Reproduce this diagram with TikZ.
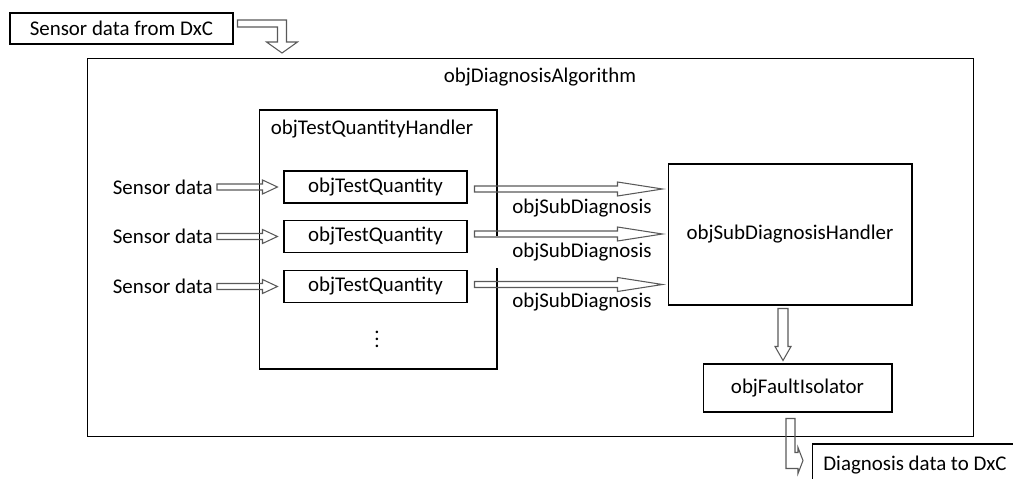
\documentclass[tikz,border=0pt]{standalone}
\usepackage{fontspec}
\setmainfont{Carlito}
\usetikzlibrary{calc}

\tikzset{
  box/.style={draw, line width=0.6pt, inner sep=0pt},
  blk/.style={draw=black!65, line width=0.6pt},
  harrow/.style={blk, to path={
    ($(\tikztostart)+(0,-3)$) -- ($(\tikztostart -| \tikztotarget)+(-#1,-3)$)
    -- ($(\tikztostart -| \tikztotarget)+(-#1,-7)$) -- (\tikztostart -| \tikztotarget)
    -- ($(\tikztostart -| \tikztotarget)+(-#1,7)$) -- ($(\tikztostart -| \tikztotarget)+(-#1,3)$)
    -- ($(\tikztostart)+(0,3)$) -- cycle}},
  harrow/.default=15,
  varrow/.style={blk, to path={
    ($(\tikztostart)+(-5,0)$) -- ($(\tikztostart |- \tikztotarget)+(-5,-14)$)
    -- ($(\tikztostart |- \tikztotarget)+(-8,-14)$) -- (\tikztostart |- \tikztotarget)
    -- ($(\tikztostart |- \tikztotarget)+(8,-14)$) -- ($(\tikztostart |- \tikztotarget)+(5,-14)$)
    -- ($(\tikztostart)+(5,0)$) -- cycle}},
}

\begin{document}
\begin{tikzpicture}[x=0.02cm, y=-0.02cm, font=\fontsize{11.9}{14}\selectfont]
    \clip (0,0) rectangle (1013,479);
    % boxes
    \node[box, minimum width=4.46cm, minimum height=0.62cm] (src) at (121.5,28.5) {Sensor data from DxC};
    \node[box, minimum width=17.74cm, minimum height=7.58cm] (algo) at (530.5,247.5) {};
    \node (algotitle) at (540,77) {objDiagnosisAlgorithm};
    \node[box, minimum width=4.76cm, minimum height=5.18cm] (tqh) at (378,239.5) {};
    \node (tqhtitle) at (372,129) {objTestQuantityHandler};
    \foreach \i/\y in {1/187,2/236.5,3/286.5} {
        \node[box, minimum width=3.66cm, minimum height=0.64cm] (tq\i) at (375.5,\y) {objTestQuantity};
        \node[anchor=east, inner sep=0pt] (sd\i) at (213,\y) {Sensor data};
    }
    \node (dots) at (377,334) {$\vdots$};
    % labels
    \node (lbl1) at (582,208) {objSubDiagnosis};
    \node[fill=white, minimum width=3.6cm, minimum height=0.64cm] (lbl2) at (582,252) {objSubDiagnosis};
    \node (lbl3) at (582,302) {objSubDiagnosis};
    \node[box, minimum width=4.88cm, minimum height=2.82cm] (sdh) at (790,234.5) {objSubDiagnosisHandler};
    \node[box, minimum width=3.78cm, minimum height=0.96cm] (fi) at (797.5,388) {objFaultIsolator};
    \node[box, minimum width=4.12cm, minimum height=0.84cm] (out) at (915,465) {Diagnosis data to DxC};
    % hollow arrows
    \foreach \i/\dy in {1/2,2/-2.5,3/-2} {
        \coordinate (sa\i) at ($(sd\i.east)+(4,0)$);
        \coordinate (sb\i) at ($(tq\i.west)+(-6,0)$);
        \draw[harrow] (sa\i) to (sb\i);
        \coordinate (da\i) at ($(tq\i.east)+(7,\dy)$);
        \coordinate (db\i) at ($(sdh.west |- tq\i)+(-5,0)$);
        \draw[harrow=45] (da\i) to (db\i);
    }
    \coordinate (va) at ($(sdh.south)+(-7,3)$);
    \coordinate (vb) at ($(fi.north)+(-14.5,-3)$);
    \draw[varrow] (va) to (vb);
    % bent arrows
    \coordinate (ta) at ($(src.east)+(4,-5)$);
    \draw[blk] (ta) ++(0,-3.5) -- ++(49,0) -- ++(0,22) -- ++(11,0) -- ++(-15.5,11)
        -- ++(-15.5,-11) -- ++(11,0) -- ++(0,-15) -- ++(-40,0) -- cycle;
    \coordinate (ba) at ($(fi.south)+(-11.5,6)$);
    \draw[blk] (ba) -- ++(9,0) -- ++(0,34) -- ++(3,0) -- ++(0,-5) -- ++(5,13)
        -- ++(-5,13) -- ++(0,-5) -- ++(-12,0) -- cycle;
\end{tikzpicture}
\end{document}
